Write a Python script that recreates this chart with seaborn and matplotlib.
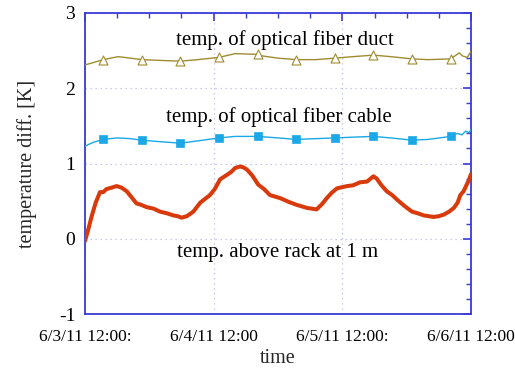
import matplotlib
matplotlib.use("Agg")
import matplotlib.pyplot as plt
import seaborn as sns
import pandas as pd

# time axis: hours since 6/3/11 12:00
tick_hours = [0, 24, 48, 72]
tick_labels = ["6/3/11 12:00:", "6/4/11 12:00", "6/5/11 12:00:", "6/6/11 12:00"]

# temperature above rack at 1 m
rack_hours = [0, 0.6, 1.25, 2.0, 2.8, 3.4, 4.0, 5.0, 5.9, 6.8, 7.8, 8.7, 9.6, 10.5, 11.5, 12.8,
              14.0, 15.2, 16.5, 17.3, 18.0, 19.0, 20.2, 21.5, 22.4, 23.3, 24.2, 25.2, 26.5,
              27.3, 28.0, 28.9, 29.5, 30.2, 31.2, 32.3, 33.4, 34.5, 36.4, 38.0, 39.5, 41.4,
              43.2, 44.2, 45.1, 46.0, 47.0, 48.9, 50.0, 51.3, 52.6, 53.8, 54.4, 55.3, 56.3,
              57.3, 58.2, 59.5, 61.0, 62.0, 63.2, 65.0, 66.0, 66.9, 67.9, 68.8, 69.5, 70.0,
              70.6, 71.2, 71.6, 72.0]
rack_temp = [-0.03, 0.12, 0.30, 0.48, 0.62, 0.62, 0.66, 0.68, 0.70, 0.68, 0.63, 0.55, 0.47,
             0.45, 0.42, 0.40, 0.36, 0.34, 0.31, 0.30, 0.28, 0.30, 0.36, 0.48, 0.53, 0.58,
             0.66, 0.79, 0.85, 0.89, 0.94, 0.96, 0.95, 0.92, 0.84, 0.72, 0.66, 0.58, 0.54,
             0.49, 0.45, 0.41, 0.39, 0.46, 0.54, 0.61, 0.67, 0.70, 0.71, 0.75, 0.76, 0.83,
             0.80, 0.71, 0.63, 0.58, 0.52, 0.44, 0.36, 0.34, 0.31, 0.29, 0.30, 0.32, 0.36,
             0.41, 0.48, 0.58, 0.63, 0.72, 0.78, 0.86]

# temperature of optical fiber cable
cable_hours = [0, 1.5, 3.4, 6.0, 8.5, 10.6, 14.0, 17.8, 21.0, 25.0, 28.0, 32.2, 36.0, 39.4,
               43.0, 46.6, 50.0, 53.8, 57.0, 61.0, 64.0, 68.2, 69.5, 70.3, 71.0, 71.6, 72.0]
cable_temp = [1.23, 1.28, 1.32, 1.34, 1.33, 1.31, 1.29, 1.27, 1.30, 1.34, 1.36, 1.36, 1.34,
              1.32, 1.33, 1.34, 1.35, 1.36, 1.34, 1.31, 1.32, 1.36, 1.40, 1.38, 1.43, 1.41,
              1.45]

# temperature of optical fiber duct
duct_hours = [0, 1.5, 3.4, 6.2, 8.5, 10.6, 14.0, 17.8, 21.0, 25.0, 28.0, 32.2, 33.0, 36.0,
              39.4, 43.0, 46.6, 50.0, 53.8, 57.0, 61.0, 64.0, 68.2, 69.8, 70.4, 71.3, 72.0]
duct_temp = [2.31, 2.34, 2.38, 2.42, 2.40, 2.38, 2.37, 2.36, 2.38, 2.41, 2.46, 2.45, 2.43,
             2.40, 2.38, 2.38, 2.40, 2.42, 2.44, 2.42, 2.39, 2.38, 2.39, 2.47, 2.43, 2.41,
             2.49]

# sampled marker positions
marker_hours = [3.4, 10.6, 17.8, 25.0, 32.2, 39.4, 46.6, 53.8, 61.0, 68.2]
cable_marks = [1.32, 1.31, 1.27, 1.34, 1.36, 1.32, 1.34, 1.36, 1.31, 1.36]
duct_marks = [2.38, 2.38, 2.36, 2.41, 2.45, 2.38, 2.40, 2.44, 2.39, 2.39]

series_labels = ["temp. of optical fiber duct", "temp. of optical fiber cable",
                 "temp. above rack at 1 m"]
label_pos = [(37.3, 2.64), (36.2, 1.62), (35.9, -0.18)]

sns.set_style("white")
plt.rcParams["font.family"] = ["Liberation Serif", "DejaVu Serif"]
plt.rcParams["axes.unicode_minus"] = False

frame_color = "#3a3ad8"
grid_color = "#b8b8f0"
rack_color = "#d93a0c"
cable_color = "#1aa8e6"
duct_color = "#a08c30"

fig = plt.figure(figsize=(5.15, 3.68), dpi=100)
ax = fig.add_axes([0.165, 0.1467, 0.7496, 0.818])

rack = pd.DataFrame({"h": rack_hours, "t": rack_temp})
cable = pd.DataFrame({"h": cable_hours, "t": cable_temp})
duct = pd.DataFrame({"h": duct_hours, "t": duct_temp})
cmarks = pd.DataFrame({"h": marker_hours, "t": cable_marks})
dmarks = pd.DataFrame({"h": marker_hours, "t": duct_marks})

sns.lineplot(data=duct, x="h", y="t", ax=ax, color=duct_color, lw=1.0, zorder=3)
sns.lineplot(data=cable, x="h", y="t", ax=ax, color=cable_color, lw=1.0, zorder=3)
sns.lineplot(data=rack, x="h", y="t", ax=ax, color=rack_color, lw=2.9, zorder=4)
sns.scatterplot(data=cmarks, x="h", y="t", ax=ax, marker="s", s=36, color=cable_color,
                edgecolor=cable_color, zorder=5)
sns.scatterplot(data=dmarks, x="h", y="t", ax=ax, marker="^", s=42, facecolor="white",
                edgecolor=duct_color, linewidth=0.8, zorder=5)

for text, (hx, ty) in zip(series_labels, label_pos):
    ax.text(hx, ty, text, ha="center", va="center", fontsize=15, color="black")

ax.set_xlim(0, 72)
ax.set_ylim(-1, 3)
ax.set_xticks(tick_hours)
ax.set_xticklabels(tick_labels)
ax.set_xticks([6, 12, 18, 30, 36, 42, 54, 60, 66], minor=True)
ax.set_yticks([-1, 0, 1, 2, 3])
ax.set_yticks([y / 5 for y in range(-5, 15) if y % 5 != 0], minor=True)

ax.grid(True, which="major", color=grid_color, linestyle=(0, (1, 3)), lw=0.9)
for s in ax.spines.values():
    s.set_color(frame_color)
    s.set_linewidth(1.3)
ax.tick_params(which="both", direction="in", color=frame_color, top=True, right=True,
               labelcolor="black")
ax.tick_params(which="major", length=6, width=1.2)
ax.tick_params(which="minor", length=3.5, width=1.0)
ax.tick_params(axis="x", which="major", labelsize=12.5, pad=11)
ax.tick_params(axis="y", which="major", labelsize=14, pad=7)

ax.set_xlabel("time", fontsize=14.5, labelpad=3)
ax.set_ylabel("temperature diff. [K]", fontsize=14.5, labelpad=16)

fig.savefig("out.png", dpi=100)
